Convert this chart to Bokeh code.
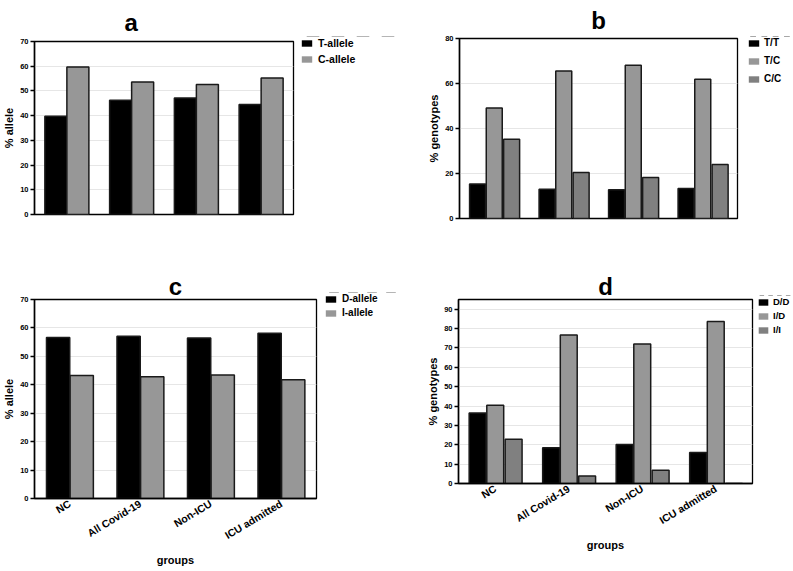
import math
from bokeh.plotting import figure
from bokeh.models import (FactorRange, Range1d, Legend, LegendItem, FixedTicker,
                          ColumnDataSource)
from bokeh.transform import dodge
from bokeh.layouts import column, row
from bokeh.embed import file_html
from bokeh.resources import INLINE

# ---------------- data ----------------
groups = ["NC", "All Covid-19", "Non-ICU", "ICU admitted"]

t_allele = [39.8, 46.2, 47.1, 44.5]
c_allele = [59.7, 53.6, 52.6, 55.2]

tt = [15.3, 13.0, 12.8, 13.3]
tc = [49.1, 65.6, 68.1, 61.9]
cc = [35.2, 20.5, 18.2, 24.0]

d_allele = [56.6, 57.1, 56.5, 58.1]
i_allele = [43.3, 42.8, 43.4, 41.8]

dd = [36.4, 18.4, 20.1, 16.0]
id_ = [40.4, 76.7, 72.0, 83.6]
ii = [22.8, 3.9, 6.9, 0.0]

ticks_a = [0, 10, 20, 30, 40, 50, 60, 70]
ticks_b = [0, 20, 40, 60, 80]
ticks_c = [0, 10, 20, 30, 40, 50, 60, 70]
ticks_d = [0, 10, 20, 30, 40, 50, 60, 70, 80, 90]

FONT = "Liberation Sans"
BLACK = "#000000"
GRAY1 = "#979797"
GRAY2 = "#808080"
EDGE = "#1a1a1a"


def make_panel(w, h, mb, ymax, ticks, ylabel, title, t_standoff, t_align, t_offset,
               series, offsets, bar_w, show_x):
    src = ColumnDataSource(dict(groups=groups, **{k: v for k, v, _ in series}))
    p = figure(width=w, height=h,
               x_range=FactorRange(factors=groups, range_padding=0),
               y_range=Range1d(0, ymax),
               output_backend="svg", toolbar_location=None,
               min_border_left=mb[0], min_border_right=mb[1],
               min_border_top=mb[2], min_border_bottom=mb[3],
               title=title)
    p.frame_align = False
    p.title.align = t_align
    p.title.text_font = FONT
    p.title.text_font_style = "bold"
    p.title.text_font_size = "24px"
    p.title.text_color = "black"
    p.title.standoff = t_standoff
    p.title.offset = t_offset

    p.background_fill_color = "white"
    p.border_fill_color = "white"
    p.outline_line_color = "black"
    p.outline_line_width = 1.3
    p.outline_line_alpha = 1

    p.xgrid.visible = False
    p.ygrid.grid_line_color = "#e6e6e6"
    p.ygrid.grid_line_width = 1

    ya = p.yaxis[0]
    ya.ticker = FixedTicker(ticks=ticks)
    ya.axis_label = ylabel
    ya.axis_label_text_font = FONT
    ya.axis_label_text_font_style = "bold"
    ya.axis_label_text_font_size = "11px"
    ya.axis_label_text_color = "black"
    ya.axis_label_standoff = 2
    ya.major_label_text_font = FONT
    ya.major_label_text_font_style = "bold"
    ya.major_label_text_font_size = "7.5px"
    ya.major_label_text_color = "black"
    ya.major_label_standoff = 2
    ya.major_tick_out = 4
    ya.major_tick_in = 0
    ya.minor_tick_out = 0
    ya.minor_tick_in = 0
    ya.axis_line_width = 1.5
    ya.axis_line_color = "black"
    ya.major_tick_line_width = 1.3
    ya.major_tick_line_color = "black"

    xa = p.xaxis[0]
    if show_x:
        xa.axis_label = "groups"
        xa.axis_label_text_font = FONT
        xa.axis_label_text_font_style = "bold"
        xa.axis_label_text_font_size = "11px"
        xa.axis_label_text_color = "black"
        xa.axis_label_standoff = 5
        xa.major_label_text_font = FONT
        xa.major_label_text_font_style = "bold"
        xa.major_label_text_font_size = "10.5px"
        xa.major_label_text_color = "black"
        xa.major_label_orientation = math.radians(31)
        xa.major_label_standoff = 4
        xa.major_tick_out = 0
        xa.major_tick_in = 0
        xa.axis_line_width = 1.5
        xa.axis_line_color = "black"
    else:
        xa.visible = False

    for (key, vals, (label, color)), off in zip(series, offsets):
        p.vbar(x=dodge("groups", off, range=p.x_range), top=key, width=bar_w,
               source=src, fill_color=color, line_color=EDGE, line_width=1.5)
    return p


def make_legend_fig(w, h, series, x0, top, spacing, font, glyph_w, standoff):
    # legend-only canvas: the swatch renderers use the series data but lie
    # outside this canvas' visible y range, so only the legend is drawn
    src = ColumnDataSource(dict(groups=groups, **{k: v for k, v, _ in series}))
    lf = figure(width=w, height=h, output_backend="svg", toolbar_location=None,
                min_border_left=x0, min_border_top=top, min_border_right=0,
                min_border_bottom=0,
                x_range=FactorRange(factors=groups), y_range=Range1d(-300, -100))
    lf.frame_align = False
    lf.axis.visible = False
    lf.grid.visible = False
    lf.outline_line_color = None
    lf.background_fill_color = "white"
    lf.border_fill_color = "white"
    items = []
    for key, vals, (label, color) in series:
        r = lf.vbar(x="groups", top=key, width=0.5, source=src, fill_color=color,
                    line_color=None)
        items.append(LegendItem(label=label, renderers=[r]))
    legend = Legend(items=items, location="top_left",
                    label_text_font=FONT, label_text_font_style="bold",
                    label_text_font_size=font, label_text_color="black",
                    glyph_width=glyph_w, glyph_height=8, label_height=13,
                    label_standoff=standoff, spacing=spacing, padding=0, margin=0,
                    border_line_color=None, background_fill_alpha=0)
    lf.add_layout(legend)
    return lf


ser_a = [("t", t_allele, ("T-allele", BLACK)), ("c", c_allele, ("C-allele", GRAY1))]
ser_b = [("tt", tt, ("T/T", BLACK)), ("tc", tc, ("T/C", GRAY1)), ("cc", cc, ("C/C", GRAY2))]
ser_c = [("d", d_allele, ("D-allele", BLACK)), ("i", i_allele, ("I-allele", GRAY1))]
ser_d = [("dd", dd, ("D/D", BLACK)), ("id", id_, ("I/D", GRAY1)), ("ii", ii, ("I/I", GRAY2))]

pa = make_panel(295, 270, (32, 2, 0, 56), 70, ticks_a, "% allele", "a", 12, "left", 90,
                ser_a, [-0.17, 0.17], 0.34, False)
la = make_legend_fig(105, 270, ser_a, 5, 36, 3, "10.5px", 13, 5)

pb = make_panel(339, 270, (59, 2, 0, 52), 80, ticks_b, "% genotypes", "b", 9, "center", 0,
                ser_b, [-0.24, 0.0, 0.25], 0.23, False)
lb = make_legend_fig(53, 270, ser_b, 8, 36, 5, "10px", 13, 4)

pc = make_panel(318, 300, (32, 2, 0, 72), 70, ticks_c, "% allele", "c", 0, "center", 0,
                ser_c, [-0.165, 0.17], 0.33, True)
lc = make_legend_fig(82, 300, ser_c, 6, 22, 1, "10px", 13, 5)

pd_ = make_panel(354, 300, (58, 2, 0, 87), 95, ticks_d, "% genotypes", "d", 0, "center", 0,
                 ser_d, [-0.24, 0.0, 0.25], 0.23, True)
ld = make_legend_fig(38, 300, ser_d, 3, 25, 1, "9.5px", 12, 4)

layout = column(row(pa, la, pb, lb), row(pc, lc, pd_, ld))

open("out.html", "w").write(file_html(layout, INLINE))
